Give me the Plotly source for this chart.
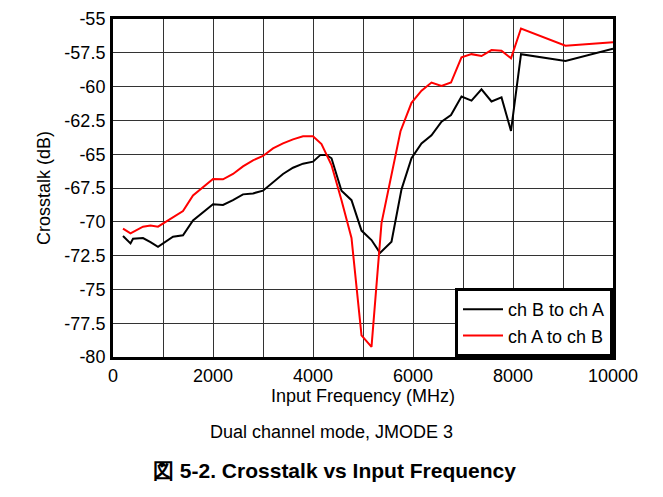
import plotly.graph_objects as go

# ---- data ----
freq_b = [200, 350, 400, 600, 750, 900, 1200, 1400, 1600, 1800, 2000, 2200, 2400, 2600, 2800,
          3000, 3200, 3400, 3600, 3800, 4000, 4150, 4270, 4370, 4570, 4770, 4970, 5170, 5340,
          5570, 5770, 5970, 6170, 6370, 6570, 6760, 6970, 7170, 7370, 7570, 7770, 7960, 8160,
          9050, 10000]
xtalk_b = [-71.05, -71.6, -71.25, -71.2, -71.5, -71.85, -71.1, -71.0, -69.9, -69.3, -68.7, -68.75,
           -68.4, -67.97, -67.9, -67.7, -67.1, -66.46, -66.0, -65.7, -65.55, -65.05, -65.05, -65.3,
           -67.7, -68.4, -70.65, -71.35, -72.3, -71.47, -67.6, -65.3, -64.2, -63.6, -62.6, -62.1,
           -60.74, -61.04, -60.2, -61.1, -60.8, -63.28, -57.6, -58.1, -57.2]

freq_a = [200, 350, 600, 750, 900, 1200, 1400, 1600, 1800, 2000, 2200, 2400, 2600, 2800, 3000,
          3200, 3400, 3600, 3800, 4000, 4170, 4370, 4570, 4770, 4970, 5170, 5370, 5750, 5970,
          6170, 6370, 6570, 6760, 6970, 7170, 7370, 7570, 7770, 7960, 8160, 9050, 10000]
xtalk_a = [-70.5, -70.85, -70.36, -70.28, -70.36, -69.7, -69.2, -68.05, -67.45, -66.83, -66.86,
           -66.46, -65.9, -65.45, -65.13, -64.57, -64.2, -63.9, -63.68, -63.68, -64.25, -65.8,
           -68.4, -71.2, -78.4, -79.25, -70.1, -63.3, -61.2, -60.3, -59.7, -59.95, -59.7, -57.84,
           -57.6, -57.74, -57.3, -57.34, -57.9, -55.7, -56.97, -56.72]

series_names = ["ch B to ch A", "ch A to ch B"]
x_ticks = [0, 2000, 4000, 6000, 8000, 10000]
x_ticklabels = ["0", "2000", "4000", "6000", "8000", "10000"]
y_ticks = [-80, -77.5, -75, -72.5, -70, -67.5, -65, -62.5, -60, -57.5, -55]
y_ticklabels = ["-80", "-77.5", "-75", "-72.5", "-70", "-67.5", "-65", "-62.5", "-60", "-57.5", "-55"]

x_title = "Input Frequency (MHz)"
y_title = "Crosstalk (dB)"
subtitle = "Dual channel mode, JMODE 3"
caption = "<b>図 5-2. Crosstalk vs Input Frequency</b>"

FONT = "Liberation Sans, Arial, sans-serif"

fig = go.Figure()
fig.add_trace(go.Scatter(x=freq_b, y=xtalk_b, mode="lines", name=series_names[0],
                         line=dict(color="black", width=2)))
fig.add_trace(go.Scatter(x=freq_a, y=xtalk_a, mode="lines", name=series_names[1],
                         line=dict(color="#ff0000", width=2)))

grid_col = "#333333"
# the page body has an 8px default margin, so the figure is sized/offset to compensate
fig.update_layout(
    width=655, height=489,
    margin=dict(l=105, r=50, t=11, b=140),
    paper_bgcolor="white", plot_bgcolor="white",
    font=dict(family=FONT, size=18, color="black"),
    showlegend=True,
    legend=dict(x=1, y=0, xanchor="right", yanchor="bottom",
                bgcolor="white", bordercolor="black", borderwidth=3,
                font=dict(size=18), tracegroupgap=0, itemwidth=40),
    xaxis=dict(range=[0, 10000], tickvals=x_ticks, ticktext=x_ticklabels,
               showgrid=True, gridcolor=grid_col, gridwidth=1,
               minor=dict(dtick=1000, showgrid=True, gridcolor=grid_col, gridwidth=1),
               showline=True, linecolor="black", linewidth=3, mirror=True,
               ticks="", zeroline=False, ticklabelstandoff=0, automargin=False,
               tickfont=dict(size=18),
               title=dict(text=x_title, standoff=2, font=dict(size=18))),
    yaxis=dict(range=[-80, -55], tickvals=y_ticks, ticktext=y_ticklabels,
               showgrid=True, gridcolor=grid_col, gridwidth=1,
               showline=True, linecolor="black", linewidth=3, mirror=True,
               ticks="", zeroline=False, ticklabelstandoff=1, automargin=False,
               tickfont=dict(size=18),
               title=dict(text=y_title, standoff=10, font=dict(size=18))),
)

fig.add_annotation(text=subtitle, xref="paper", yref="paper", x=0.437, y=-0.222,
                   xanchor="center", yanchor="middle", showarrow=False,
                   font=dict(size=18))
fig.add_annotation(text=caption, xref="paper", yref="paper", x=0.443, y=-0.337,
                   xanchor="center", yanchor="middle", showarrow=False,
                   font=dict(size=21))

fig.write_html("out.html")
